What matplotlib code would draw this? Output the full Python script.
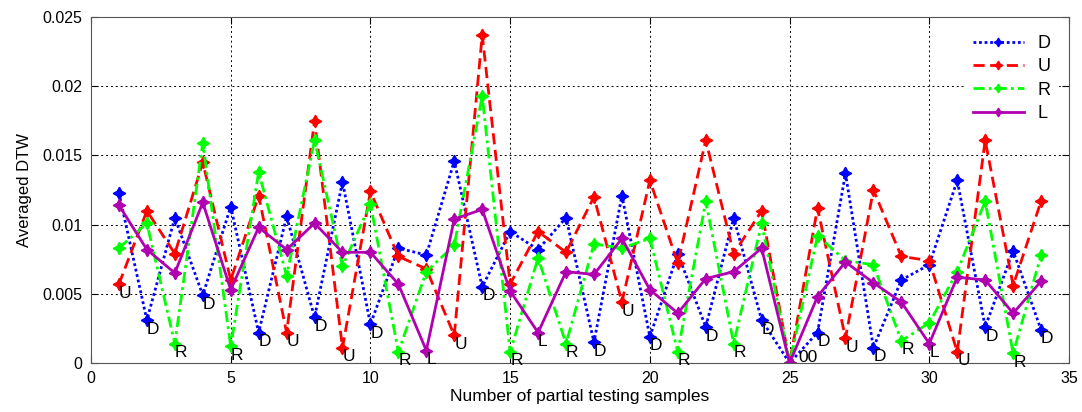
import numpy as np
import matplotlib
matplotlib.use('Agg')
import matplotlib.pyplot as plt

## DADOS ##
x = np.arange(1, 35)
D = [0.0123, 0.0031, 0.0105, 0.0049, 0.0113, 0.0022, 0.0106, 0.0033, 0.0131, 0.0028,
     0.0083, 0.0078, 0.0146, 0.0055, 0.0095, 0.0082, 0.0105, 0.0015, 0.0121, 0.0019,
     0.0079, 0.0026, 0.0105, 0.0031, 0.0000, 0.0022, 0.0137, 0.0011, 0.0060, 0.0071,
     0.0132, 0.0026, 0.0081, 0.0024]
U = [0.0057, 0.0110, 0.0079, 0.0145, 0.0060, 0.0121, 0.0022, 0.0175, 0.0011, 0.0124,
     0.0077, 0.0068, 0.0020, 0.0237, 0.0057, 0.0095, 0.0080, 0.0120, 0.0044, 0.0132,
     0.0072, 0.0161, 0.0079, 0.0110, 0.0000, 0.0112, 0.0018, 0.0125, 0.0077, 0.0074,
     0.0008, 0.0161, 0.0056, 0.0117]
R = [0.0083, 0.0101, 0.0014, 0.0159, 0.0012, 0.0138, 0.0063, 0.0161, 0.0070, 0.0115,
     0.0008, 0.0066, 0.0085, 0.0193, 0.0008, 0.0076, 0.0014, 0.0086, 0.0083, 0.0090,
     0.0008, 0.0117, 0.0014, 0.0101, 0.0000, 0.0092, 0.0074, 0.0071, 0.0016, 0.0029,
     0.0066, 0.0117, 0.0007, 0.0078]
L = [0.0114, 0.0082, 0.0065, 0.0116, 0.0053, 0.0098, 0.0082, 0.0101, 0.0080, 0.0080,
     0.0057, 0.0009, 0.0104, 0.0111, 0.0052, 0.0022, 0.0066, 0.0064, 0.0090, 0.0053,
     0.0036, 0.0061, 0.0066, 0.0083, 0.0000, 0.0048, 0.0073, 0.0058, 0.0044, 0.0014,
     0.0062, 0.0060, 0.0036, 0.0059]
rotulos = ['U', 'D', 'R', 'D', 'R', 'D', 'U', 'D', 'U', 'D', 'R', 'L', 'U', 'D', 'R', 'L', 'R',
           'D', 'U', 'D', 'R', 'D', 'R', 'D', '00', 'D', 'U', 'D', 'R', 'L', 'U', 'D', 'R', 'D']

## GRAFICO ##
plt.rcParams['font.family'] = ['Liberation Sans', 'DejaVu Sans']
fig = plt.figure(figsize=(10.82, 4.12), dpi=100)
ax = fig.add_axes([0.0841, 0.1189, 0.9039, 0.8398])

estrela = (4, 1, 0)
series = [('D', D, '#0000ff', (0, (1, 1))), ('U', U, '#ff0000', (0, (4, 2))),
          ('R', R, '#00ff00', (0, (4, 1.5, 1, 1.5))), ('L', L, '#b000b0', '-')]
for nome, valores, cor, estilo in series:
    ax.plot(x, valores, color=cor, linestyle=estilo, linewidth=2, marker=estrela,
            markersize=9, label=nome)

# letra no ponto minimo de cada amostra
minimos = np.min(np.array([D, U, R, L]), axis=0)
for xi, yi, txt in zip(x, minimos, rotulos):
    if yi == 0:
        ax.annotate(txt, (xi, yi), xytext=(9, 6), textcoords='offset pixels',
                    ha='left', va='center', fontsize=12.5)
    else:
        ax.annotate(txt, (xi, yi), xytext=(0, -9), textcoords='offset pixels',
                    ha='left', va='center', fontsize=12.5)

ax.set_xlim(0, 35)
ax.set_ylim(0, 0.025)
ax.set_xticks(np.arange(0, 36, 5))
ax.set_yticks([0, 0.005, 0.01, 0.015, 0.02, 0.025])
ax.set_yticklabels(['0', '0.005', '0.01', '0.015', '0.02', '0.025'])
ax.grid(True, color='black', linestyle=(0, (2, 3)), linewidth=0.7)
ax.tick_params(direction='in', length=5, labelsize=11.5, top=True, right=True, pad=6)
for s in ax.spines.values():
    s.set_color('#555555')
ax.set_xlabel('Number of partial testing samples', fontsize=12.5, labelpad=2)
ax.set_ylabel('Averaged DTW', fontsize=12, labelpad=8)

leg = ax.legend(loc='upper right', frameon=True, fontsize=13, handlelength=2.8,
                markerscale=0.7, labelspacing=0.35, borderaxespad=0.6)
leg.get_frame().set_edgecolor('white')
leg.get_frame().set_facecolor('white')
leg.get_frame().set_alpha(1)

plt.savefig('out.png', dpi=100)
